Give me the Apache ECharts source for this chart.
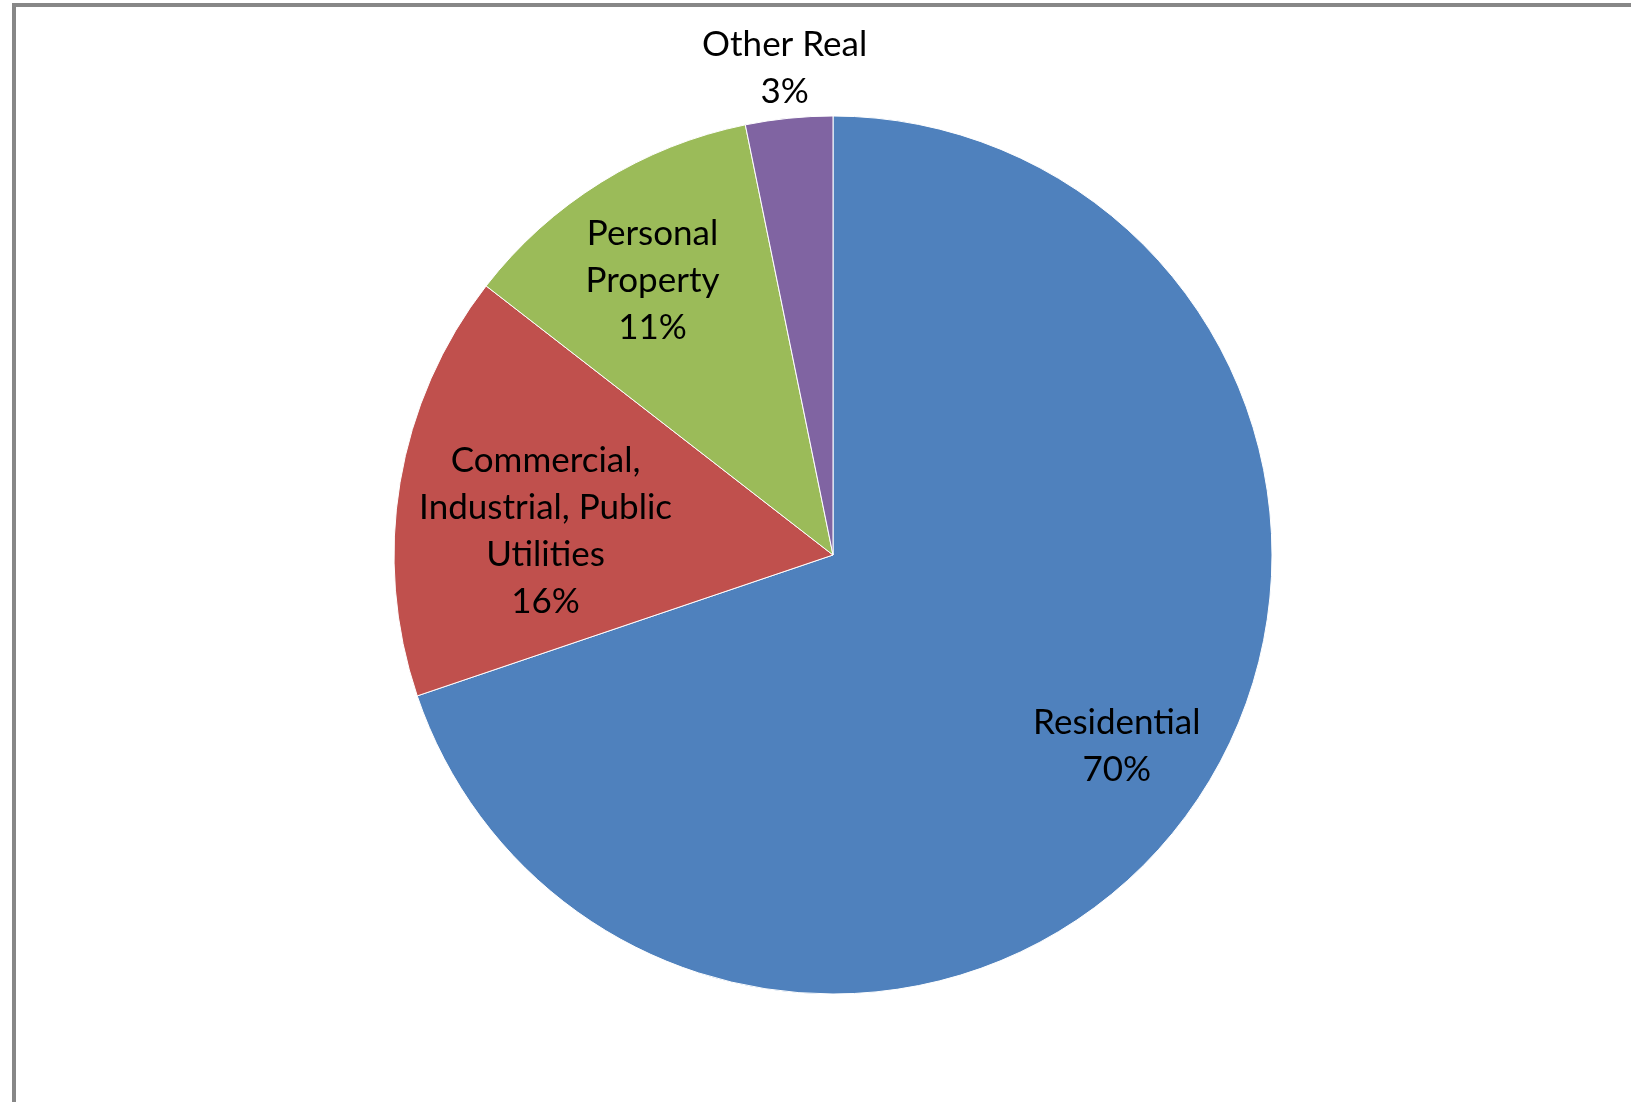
<!DOCTYPE html>
<html>
<head>
<meta charset="utf-8">
<script src="https://cdn.jsdelivr.net/npm/echarts@6/dist/echarts.min.js"></script>
<style>
html,body{margin:0;padding:0;background:#fff;}
#chart{width:1631px;height:1102px;}
</style>
</head>
<body>
<div id="chart"></div>
<script>
const categories = ['Residential', 'Commercial,\nIndustrial, Public\nUtilities', 'Personal\nProperty', 'Other Real'];
const values = [69.8, 15.7, 11.3, 3.2];
const colors = ['#4F81BD', '#C0504D', '#9BBB59', '#8064A2'];
const labelOffsets = [[103, 62], [-68, 13], [-63, -85], [-26, -265]];

const chart = echarts.init(document.getElementById('chart'));
chart.setOption({
  animation: false,
  backgroundColor: '#fff',
  graphic: [{
    type: 'rect',
    shape: { x: 14, y: 5, width: 2000, height: 2000 },
    style: { fill: 'none', stroke: '#878787', lineWidth: 4 }
  }],
  series: [{
    type: 'pie',
    center: [833, 555],
    radius: 439,
    startAngle: 90,
    clockwise: true,
    avoidLabelOverlap: false,
    itemStyle: { borderColor: '#fff', borderWidth: 1 },
    label: {
      show: true,
      position: 'inside',
      fontFamily: 'Lato',
      fontSize: 35,
      lineHeight: 47,
      color: '#000',
      align: 'center',
      formatter: p => p.name + '\n' + Math.round(p.percent) + '%'
    },
    labelLine: { show: false },
    emphasis: { disabled: true },
    data: categories.map((c, i) => ({
      name: c,
      value: values[i],
      itemStyle: { color: colors[i] },
      label: { offset: labelOffsets[i] }
    }))
  }]
});
</script>
</body>
</html>
